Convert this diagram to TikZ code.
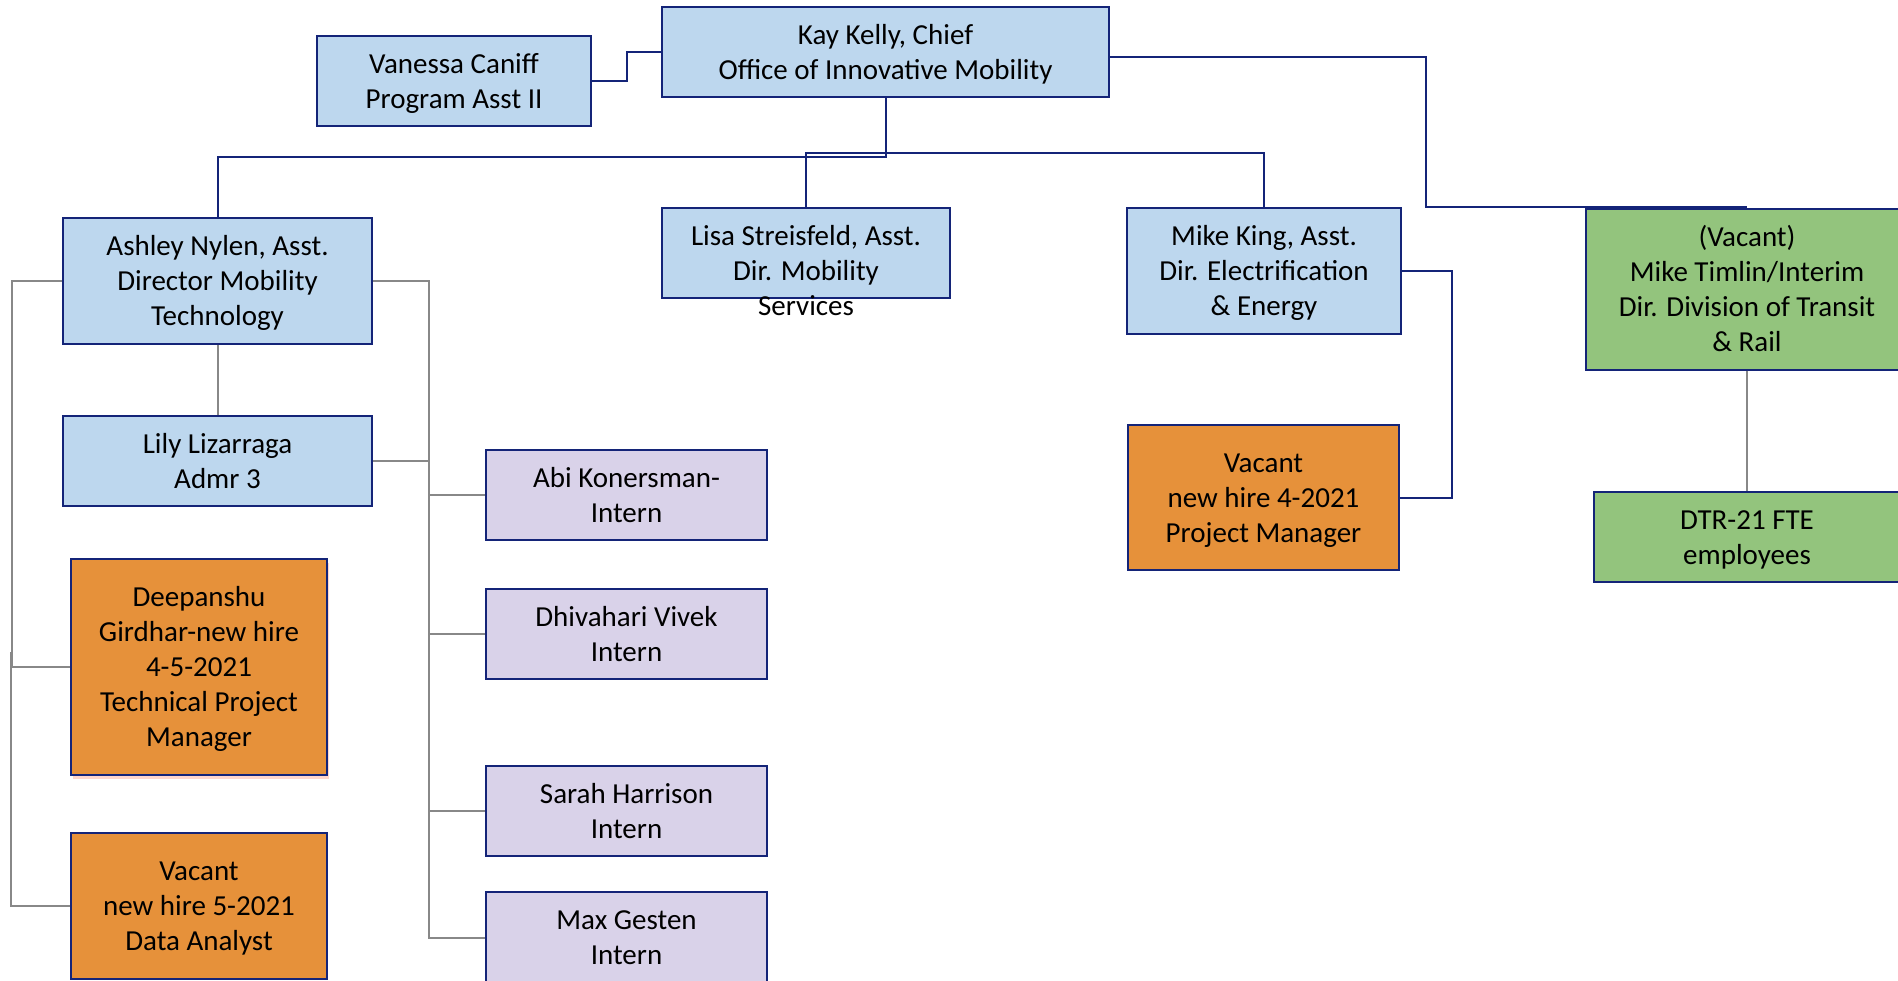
\documentclass[tikz,border=0pt]{standalone}
\usepackage{fontspec}
\setmainfont{Carlito}
\usetikzlibrary{positioning,shadows,calc}

\definecolor{navy}{RGB}{20,36,120}
\definecolor{boxblue}{RGB}{189,215,238}
\definecolor{boxorange}{RGB}{230,145,58}
\definecolor{boxgreen}{RGB}{147,196,125}
\definecolor{boxlilac}{RGB}{217,210,233}
\definecolor{linegray}{RGB}{136,136,136}

\begin{document}
\begin{tikzpicture}[x=0.5pt, y=-0.5pt,
  every node/.style={font=\fontsize{14.5}{17.5}\selectfont, align=center, inner sep=0pt,
    execute at end node={\rule[-4pt]{0pt}{4pt}}},
  lines/.style={execute at begin node={\rule{0pt}{\dimexpr 17.5pt*#1-3.6pt\relax}}},
  box/.style={draw=navy, line width=1pt},
  bluebox/.style={box, fill=boxblue},
  orangebox/.style={box, fill=boxorange},
  greenbox/.style={box, fill=boxgreen},
  internbox/.style={box, fill=boxlilac, minimum width=140.5pt, minimum height=45pt, lines=2},
  boss/.style={draw=navy, line width=1pt},
  staff/.style={draw=linegray, line width=1pt}]
  % Define page
  \path[use as bounding box, clip] (0,0) rectangle (1898,980);

  % Top level
  \node[bluebox, lines=2, minimum width=223.5pt, minimum height=45pt] (kay) at (885.5,52)
    {Kay Kelly, Chief\\Office of Innovative Mobility};
  \node[bluebox, lines=2, minimum width=137pt, minimum height=45pt] (vanessa) at (454,81)
    {Vanessa Caniff\\Program Asst II};

  % Assistant directors
  \node[bluebox, lines=3, minimum width=154.5pt, minimum height=63pt] (ashley) at (217.5,281)
    {Ashley Nylen, Asst.\\Director Mobility\\Technology};
  \node[bluebox, minimum width=144pt, minimum height=45pt] (lisa) at (806,253) {};
  \node[lines=3] (lisatext) at (806,271) {Lisa Streisfeld, Asst.\\Dir. Mobility\\Services};
  \node[bluebox, lines=3, minimum width=137pt, minimum height=63pt] (mike) at (1264,271)
    {Mike King, Asst.\\Dir. Electrification\\\& Energy};
  \node[greenbox, lines=4, minimum width=161pt, minimum height=80.5pt] (transit) at (1747,289)
    {(Vacant)\\Mike Timlin/Interim\\Dir. Division of Transit\\\& Rail};

  % Staff
  \node[bluebox, lines=2, minimum width=154.5pt, minimum height=45pt] (lily) at (217.5,461)
    {Lily Lizarraga\\Admr 3};
  \node[orangebox, lines=5, minimum width=128pt, minimum height=108pt,
        drop shadow={shadow xshift=1pt, shadow yshift=-2pt, opacity=.2, fill=red!60!orange}]
    (deep) at (199,667)
    {Deepanshu\\Girdhar-new hire\\4-5-2021\\Technical Project\\Manager};
  \node[orangebox, lines=3, minimum width=128pt, minimum height=73pt] (analyst) at (199,906)
    {Vacant\\new hire 5-2021\\Data Analyst};
  \node[orangebox, lines=3, minimum width=135.5pt, minimum height=72.5pt] (pm) at (1263.5,497.5)
    {Vacant\\new hire 4-2021\\Project Manager};
  \node[greenbox, lines=2, minimum width=153pt, minimum height=45pt] (dtr) at (1747,537)
    {DTR-21 FTE\\employees};

  % Interns
  \node[internbox] (abi) at (626.5,495) {Abi Konersman-\\Intern};
  \node[internbox] (dhiv) at (626.5,634) {Dhivahari Vivek\\Intern};
  \node[internbox] (sarah) at (626.5,811) {Sarah Harrison\\Intern};
  \node[internbox, minimum height=45.5pt] (max) at (626.5,937.5) {Max Gesten\\Intern};

  % Reporting lines
  \draw[boss] (vanessa.east) -- ++(35,0) |- (kay.west);
  \draw[boss] (kay.south) |- (ashley.north |- 0,157) -- (ashley.north);
  \draw[boss] (lisa.north) |- (mike.north |- 0,153) -- (mike.north);
  \coordinate (kaybend) at (1426,207);
  \draw[boss] ($(kay.east)+(0,5)$) -| (kaybend) -- (transit.north |- kaybend);
  \draw[boss] (mike.east) -- ++(50,0) |- (pm.east);

  % Staff lines
  \draw[staff] (transit.south) -- (dtr.north);
  \draw[staff] (ashley.south) -- (lily.north);
  \draw[staff] (ashley.west) -- ++(-50,0) |- (deep.west);
  \coordinate (dasplit) at (11,652);
  \draw[staff] (dasplit) |- (analyst.west);
  \coordinate (trunk) at (429,281);
  \draw[staff] (ashley.east) -- (trunk) |- (max.west);
  \draw[staff] (lily.east) -- (trunk |- lily.east);
  \foreach \n in {abi,dhiv,sarah}
      \draw[staff] (trunk |- \n.west) -- (\n.west);
\end{tikzpicture}
\end{document}
